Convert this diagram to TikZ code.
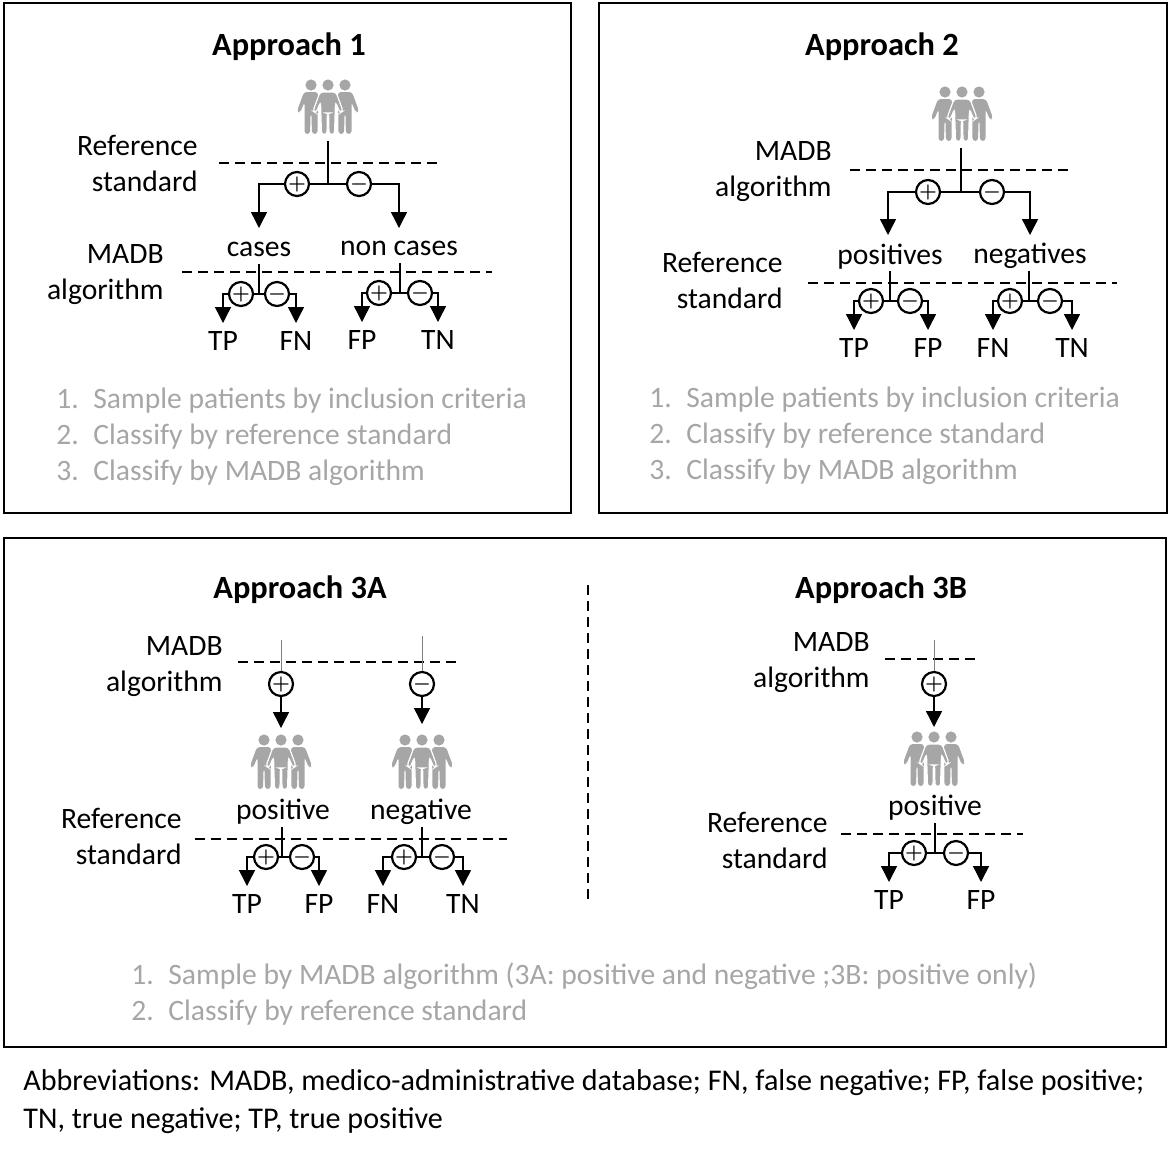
\documentclass[tikz,border=0pt]{standalone}
\usepackage{fontspec}
\setmainfont{Carlito}
\usetikzlibrary{arrows.meta}

\definecolor{softgray}{HTML}{A6A6A6}
\newcommand{\numitem}[1]{\makebox[18.5pt][l]{#1}}

\tikzset{
	panel/.style={draw, line width=1pt},
	txt/.style={font=\fontsize{14.8}{18}\selectfont, inner sep=0pt},
	lab/.style={txt, text height=12pt, text depth=2.5pt},
	title/.style={txt, font=\fontsize{16.2}{18}\selectfont\bfseries},
	side/.style={txt, align=right, anchor=east},
	steps/.style={txt, text=softgray, align=left, anchor=west},
	sign/.style={draw, circle, fill=white, line width=1.1pt, minimum size=12pt, inner sep=0pt, font=\boldmath},
	cut/.style={dashed, dash pattern=on 5pt off 3pt, line width=.7pt},
	wire/.style={line width=.7pt},
	thinwire/.style={line width=.5pt, draw=gray},
	tip/.style={wire, -{Triangle[width=8pt,length=8pt]}},
	pics/people/.style={code={
		\foreach \s in {-1,1}{
			\fill[softgray] (\s*17,5) circle[radius=2.8pt];
			\fill[softgray, rounded corners=1.5pt] (\s*10,12) -- (\s*24,12) -- (\s*31,31) -- (\s*28,33) -- (\s*23.5,22) -- (\s*23.5,54) -- (\s*18,54) -- (\s*17.4,33) -- (\s*16.6,33) -- (\s*16,54) -- (\s*10.5,54) -- cycle;
		}
		\fill[softgray] (0,5) circle[radius=2.8pt];
		\filldraw[softgray, draw=white, line width=.6pt, rounded corners=1.5pt] (-8,12) -- (8,12) -- (15,31) -- (12,33) -- (7.5,22) -- (6.5,54.5) -- (1,54.5) -- (.6,33) -- (-.6,33) -- (-1,54.5) -- (-6.5,54.5) -- (-7.5,22) -- (-12,33) -- (-15,31) -- cycle;
	}}
}

\begin{document}
\begin{tikzpicture}[x=.5pt, y=-.5pt]
	\useasboundingbox (0,0) rectangle (1170,1158);

	% panels
	\draw[panel] (4,3) rectangle (571,513);
	\draw[panel] (599,3) rectangle (1167,513);
	\draw[panel] (4,538) rectangle (1166,1047);
	\draw[cut] (588,585) -- (588,900);

	\node[title] (titleA) at (289,47) {Approach 1};
	\node[title] (titleB) at (882,47) {Approach 2};
	\node[title] (titleC) at (300,590) {Approach 3A};
	\node[title] (titleD) at (881,590) {Approach 3B};

	% approach 1
	\pic at (328,80) {people};
	\node[side] (refA) at (198,163) {Reference\\standard};
	\draw[cut] (219,163) -- (438,163);
	\coordinate (topA) at (328,141);
	\coordinate (barA) at (328,184);
	\node[sign] (plusA) at (297,184) {$+$};
	\node[sign] (minusA) at (359,184) {$-$};
	\coordinate (tipAl) at (259,228);
	\coordinate (tipAr) at (399,228);
	\draw[wire] (topA) -- (barA);
	\draw[wire] (plusA) -- (barA) -- (minusA);
	\draw[tip] (plusA) -| (tipAl);
	\draw[tip] (minusA) -| (tipAr);
	\node[lab] (casesA) at (259,247) {cases};
	\node[lab] (noncasesA) at (399,246) {non cases};
	\node[side] (madbA) at (164,275) {MADB\\algorithm};
	\draw[cut] (182,272) -- (492,272);
	\node[steps] (stepsA) at (56,437) {\numitem{1.}Sample patients by inclusion criteria\\\numitem{2.}Classify by reference standard\\\numitem{3.}Classify by MADB algorithm};

	% approach 2
	\pic at (962,87) {people};
	\node[side] (madbB) at (832,172) {MADB\\algorithm};
	\draw[cut] (850,170) -- (1068,170);
	\coordinate (topB) at (961,148);
	\coordinate (barB) at (961,192);
	\node[sign] (plusB) at (928,192) {$+$};
	\node[sign] (minusB) at (992,192) {$-$};
	\coordinate (tipBl) at (888,235);
	\coordinate (tipBr) at (1030,235);
	\draw[wire] (topB) -- (barB);
	\draw[wire] (plusB) -- (barB) -- (minusB);
	\draw[tip] (plusB) -| (tipBl);
	\draw[tip] (minusB) -| (tipBr);
	\node[lab] (posB) at (890,255) {positives};
	\node[lab] (negB) at (1030,254) {negatives};
	\node[side] (refB) at (783,280) {Reference\\standard};
	\draw[cut] (808,283) -- (1117,283);
	\node[steps] (stepsB) at (649,436) {\numitem{1.}Sample patients by inclusion criteria\\\numitem{2.}Classify by reference standard\\\numitem{3.}Classify by MADB algorithm};

	% approach 3A
	\node[side] (madbC) at (223,667) {MADB\\algorithm};
	\draw[cut] (238,662) -- (458,662);
	\coordinate (topCl) at (281,640);
	\coordinate (topCr) at (422,636);
	\node[sign] (plusC) at (281,684) {$+$};
	\node[sign] (minusC) at (422,684) {$-$};
	\coordinate (tipCl) at (281,728);
	\coordinate (tipCr) at (422,724);
	\draw[thinwire] (topCl) -- (plusC);
	\draw[thinwire] (topCr) -- (minusC);
	\draw[tip] (plusC) -- (tipCl);
	\draw[tip] (minusC) -- (tipCr);
	\pic at (281,735) {people};
	\pic at (422,735) {people};
	\node[lab] (posC) at (283,810) {positive};
	\node[lab] (negC) at (421,810) {negative};
	\node[side] (refC) at (182,836) {Reference\\standard};
	\draw[cut] (195,839) -- (507,839);

	% approach 3B
	\node[side] (madbD) at (870,663) {MADB\\algorithm};
	\draw[cut] (885,659) -- (977,659);
	\coordinate (topD) at (934,640);
	\node[sign] (plusD) at (934,684) {$+$};
	\coordinate (tipD) at (934,727);
	\draw[thinwire] (topD) -- (plusD);
	\draw[tip] (plusD) -- (tipD);
	\pic at (934,732) {people};
	\node[lab] (posD) at (935,806) {positive};
	\node[side] (refD) at (828,840) {Reference\\standard};
	\draw[cut] (841,834) -- (1023,834);

	% small forks: name / stem / bar / plus / minus / left / right / labels
	\foreach \n/\xs/\yb/\xp/\xm/\xl/\xr/\la/\lb in {
		a/259/294/241/277/223/296/TP/FN,
		b/400/293/379/420/362/438/FP/TN,
		c/890/301/871/910/854/928/TP/FP,
		d/1029/301/1010/1050/993/1072/FN/TN,
		e/282/857/266/302/247/319/TP/FP,
		f/422/857/404/442/383/463/FN/TN,
		g/935/853/914/956/889/981/TP/FP}{
		\coordinate (\n top) at (\xs,\yb-30);
		\coordinate (\n bar) at (\xs,\yb);
		\coordinate (\n tipl) at (\xl,\yb+29);
		\coordinate (\n tipr) at (\xr,\yb+29);
		\node[sign] (\n plus) at (\xp,\yb) {$+$};
		\node[sign] (\n minus) at (\xm,\yb) {$-$};
		\draw[wire] (\n top) -- (\n bar);
		\draw[wire] (\n plus) -- (\n bar) -- (\n minus);
		\draw[tip] (\n plus) -| (\n tipl);
		\draw[tip] (\n minus) -| (\n tipr);
		\node[lab] (\n left) at (\xl,\yb+47) {\la};
		\node[lab] (\n right) at (\xr,\yb+47) {\lb};
	}

	\node[steps] (stepsC) at (131,994) {\numitem{1.}Sample by MADB algorithm (3A: positive and negative ;3B: positive only)\\\numitem{2.}Classify by reference standard};

	\node[txt, anchor=west, align=left, font=\fontsize{15.05}{19}\selectfont] (abbrev) at (23,1102) {Abbreviations: MADB, medico-administrative database; FN, false negative; FP, false positive;\\TN, true negative; TP, true positive};
\end{tikzpicture}
\end{document}
